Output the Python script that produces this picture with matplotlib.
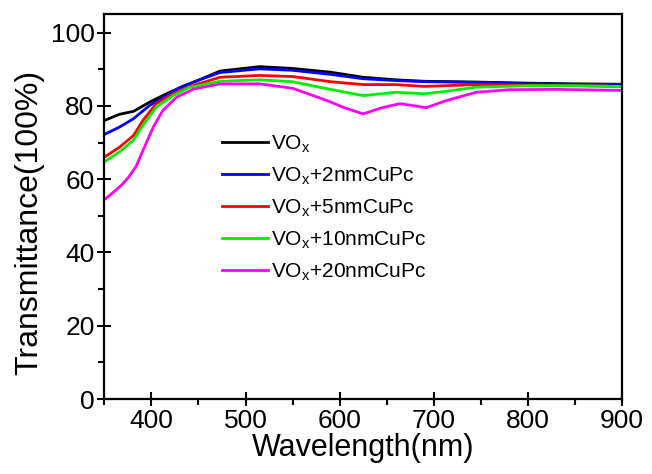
import matplotlib
matplotlib.use("Agg")
import matplotlib.pyplot as plt
from matplotlib.ticker import MultipleLocator

plt.rcParams['font.family'] = ['Liberation Sans', 'DejaVu Sans']
plt.rcParams['mathtext.fontset'] = 'custom'
plt.rcParams['mathtext.rm'] = 'Liberation Sans'

# wavelength samples (nm) and transmittance (%)
wl_black = [350, 366, 381, 398, 416, 430, 450, 473, 515, 550, 590, 625, 660, 690, 745, 800, 850, 900]
t_black = [76.0, 77.7, 78.5, 81.0, 83.3, 84.9, 87.0, 89.5, 90.7, 90.2, 89.2, 87.8, 87.1, 86.7, 86.5, 86.2, 86.0, 85.9]

wl_blue = [350, 366, 381, 398, 416, 430, 450, 473, 515, 550, 590, 625, 660, 690, 745, 800, 850, 900]
t_blue = [72.2, 74.2, 76.5, 80.1, 82.8, 85.0, 87.0, 89.1, 90.1, 89.7, 88.6, 87.4, 86.9, 86.6, 86.4, 86.0, 85.9, 85.8]

wl_red = [350, 366, 381, 391, 405, 423, 440, 473, 515, 550, 590, 625, 660, 690, 745, 800, 850, 900]
t_red = [66.0, 68.7, 71.9, 76.0, 80.6, 83.3, 85.2, 87.8, 88.3, 88.0, 86.6, 85.8, 85.8, 85.3, 85.8, 85.6, 85.5, 85.3]

wl_green = [350, 366, 381, 391, 405, 423, 440, 473, 515, 550, 590, 625, 660, 690, 714, 745, 800, 850, 900]
t_green = [64.7, 67.4, 70.6, 74.7, 79.6, 82.8, 85.0, 86.7, 87.1, 86.6, 84.5, 82.8, 83.7, 83.3, 84.0, 85.1, 85.5, 85.5, 85.3]

wl_magenta = [350, 359, 368, 376, 384, 391, 402, 412, 427, 445, 473, 515, 550, 586, 605, 625, 645, 664, 680, 692, 714, 745, 780, 830, 900]
t_magenta = [54.4, 56.3, 58.3, 60.6, 63.6, 67.8, 74.2, 78.7, 82.4, 84.6, 86.0, 86.0, 84.8, 81.5, 79.5, 77.8, 79.5, 80.6, 80.0, 79.5, 81.5, 83.7, 84.4, 84.5, 84.2]

labels = ['VO$_\\mathregular{x}$', 'VO$_\\mathregular{x}$+2nmCuPc', 'VO$_\\mathregular{x}$+5nmCuPc',
          'VO$_\\mathregular{x}$+10nmCuPc', 'VO$_\\mathregular{x}$+20nmCuPc']
colors = ['#000000', '#0000ff', '#ff0000', '#00ee00', '#ff00ff']

fig = plt.figure(figsize=(6.52, 4.74), dpi=100)
ax = fig.add_axes([0.160, 0.158, 0.794, 0.812])

series = [(wl_black, t_black), (wl_blue, t_blue), (wl_red, t_red),
          (wl_green, t_green), (wl_magenta, t_magenta)]
for (wl, t), lab, c in zip(series, labels, colors):
    ax.plot(wl, t, color=c, lw=2.0, label=lab)

ax.set_xlim(350, 900)
ax.set_ylim(0, 105)
ax.xaxis.set_major_locator(MultipleLocator(100))
ax.xaxis.set_minor_locator(MultipleLocator(50))
ax.yaxis.set_major_locator(MultipleLocator(20))
ax.yaxis.set_minor_locator(MultipleLocator(10))
ax.tick_params(which='major', direction='inout', length=10, width=1.5, labelsize=19, pad=2)
ax.tick_params(which='minor', direction='out', length=4, width=1.5)
for sp in ax.spines.values():
    sp.set_linewidth(1.6)

ax.set_xlabel('Wavelength(nm)', fontsize=22, labelpad=0)
ax.set_ylabel('Transmittance(100%)', fontsize=23)
ax.yaxis.set_label_coords(-0.117, 0.46)

ax.legend(loc='upper left', bbox_to_anchor=(0.227, 0.691), frameon=False, fontsize=15,
          handlelength=2.2, handletextpad=0.15, labelspacing=0.5,
          borderaxespad=0, borderpad=0)

fig.savefig('out.png', dpi=100)
